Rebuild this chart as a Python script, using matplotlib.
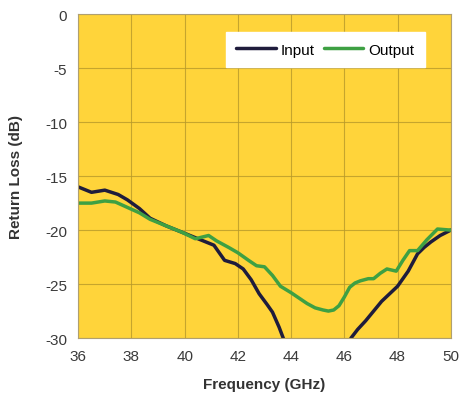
import matplotlib
matplotlib.use('Agg')
import matplotlib.pyplot as plt
import numpy as np

plt.rcParams['font.family'] = ['Liberation Sans', 'DejaVu Sans']
plt.rcParams['axes.unicode_minus'] = False

# Input return loss (drops below -30 between ~43.7 and ~46.2 GHz)
input_freq = [36.0, 36.5, 37.0, 37.5, 37.85, 38.3, 38.7, 39.3, 39.9, 40.4, 40.8,
              41.1, 41.5, 41.9, 42.2, 42.5, 42.8, 43.1, 43.3, 43.55, 43.75, 43.9,
              46.1, 46.25, 46.5, 46.8, 47.1, 47.4, 47.7, 48.0, 48.4, 48.75, 49.0,
              49.25, 49.6, 50.0]
input_rl = [-16.0, -16.5, -16.3, -16.7, -17.2, -18.0, -18.9, -19.6, -20.2, -20.7, -21.1,
            -21.4, -22.8, -23.1, -23.6, -24.6, -25.9, -26.9, -27.6, -29.0, -30.3, -31.5,
            -31.5, -30.0, -29.2, -28.4, -27.5, -26.6, -25.9, -25.2, -23.8, -22.2, -21.6,
            -21.1, -20.5, -20.0]

# Output return loss
output_freq = [36.0, 36.5, 37.0, 37.4, 37.85, 38.3, 38.7, 39.3, 39.9, 40.4, 40.9,
               41.2, 41.65, 42.0, 42.4, 42.7, 43.0, 43.3, 43.6, 44.0, 44.3, 44.6,
               44.9, 45.2, 45.4, 45.6, 45.8, 46.0, 46.2, 46.4, 46.6, 46.9, 47.1,
               47.35, 47.6, 47.95, 48.2, 48.45, 48.75, 49.1, 49.5, 50.0]
output_rl = [-17.5, -17.5, -17.3, -17.4, -17.9, -18.4, -19.0, -19.6, -20.2, -20.8, -20.5,
             -21.0, -21.6, -22.1, -22.8, -23.3, -23.4, -24.2, -25.2, -25.8, -26.3, -26.8,
             -27.2, -27.4, -27.5, -27.4, -27.0, -26.2, -25.3, -24.9, -24.7, -24.5, -24.5,
             -24.0, -23.6, -23.8, -22.8, -21.9, -21.9, -20.9, -19.9, -20.0]

x_ticks = [36, 38, 40, 42, 44, 46, 48, 50]
y_ticks = [0, -5, -10, -15, -20, -25, -30]

fig = plt.figure(figsize=(4.6, 4.1), dpi=100)
ax = fig.add_axes([0.170, 0.173, 0.810, 0.790])
ax.set_facecolor('#ffd43a')

ax.plot(input_freq, input_rl, color='#1f1c3c', lw=2.5, label='Input',
        solid_joinstyle='round', solid_capstyle='round')
ax.plot(output_freq, output_rl, color='#3ea043', lw=2.5, label='Output',
        solid_joinstyle='round', solid_capstyle='round')

ax.set_xlim(36, 50)
ax.set_ylim(-30, 0)
ax.set_xticks(x_ticks)
ax.set_yticks(y_ticks)
ax.grid(True, color='#b89a2a', lw=0.8, alpha=0.8)
ax.set_axisbelow(True)
ax.tick_params(length=0, pad=8, labelsize=11, labelcolor='#3a3a3a')
for s in ax.spines.values():
    s.set_color('#b0a070')
    s.set_linewidth(0.8)

ax.set_xlabel('Frequency (GHz)', fontsize=11, fontweight='bold', color='#333333', labelpad=10)
ax.set_ylabel('Return Loss (dB)', fontsize=11, fontweight='bold', color='#333333', labelpad=16)

leg = ax.legend(loc='upper right', ncol=2, fontsize=11, frameon=True, fancybox=False,
                handlelength=2.6, handletextpad=0.3, columnspacing=0.6,
                borderpad=0.7, borderaxespad=0.0, bbox_to_anchor=(0.93, 0.945))
leg.get_frame().set_facecolor('white')
leg.get_frame().set_edgecolor('white')
leg.get_frame().set_alpha(1)

fig.savefig('out.png', dpi=100)
